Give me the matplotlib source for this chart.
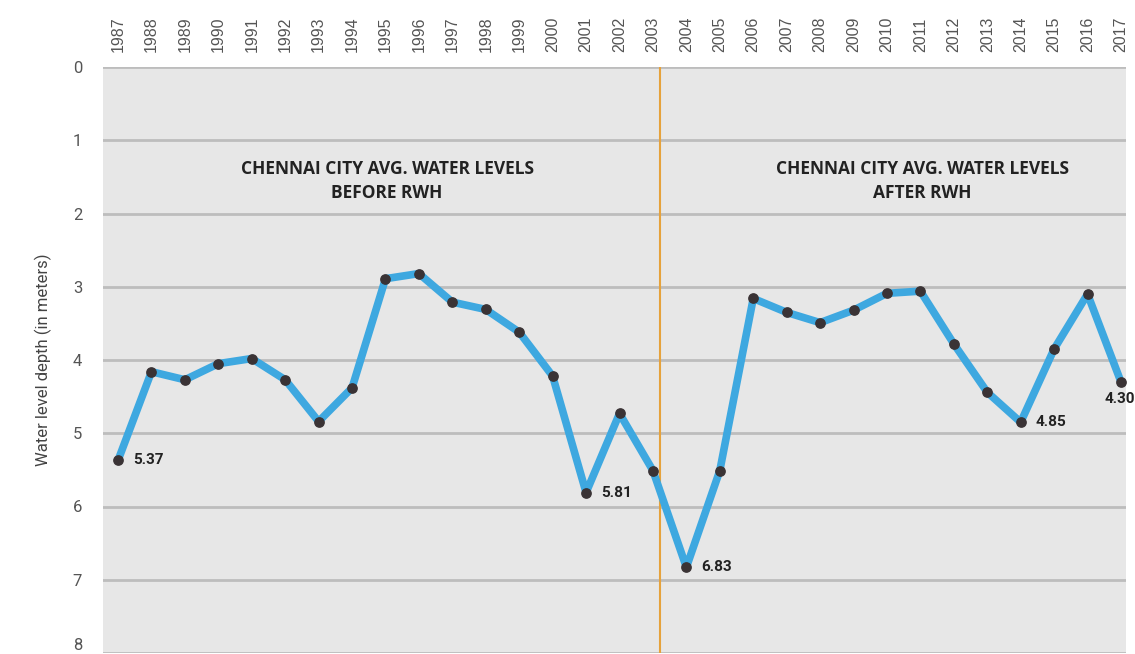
import matplotlib
matplotlib.use("Agg")
import matplotlib.pyplot as plt
import numpy as np

# Chennai city average water level depth (m), 1987-2017
years = list(range(1987, 2018))
depth = [5.37, 4.16, 4.27, 4.05, 3.98, 4.27, 4.84, 4.38, 2.89, 2.82,
         3.21, 3.31, 3.62, 4.22, 5.81, 4.73, 5.51, 6.83, 5.51, 3.16,
         3.35, 3.49, 3.32, 3.09, 3.06, 3.78, 4.44, 4.85, 3.85, 3.10,
         4.30]
yticks = list(range(0, 9))
rwh_year = 2003.2

labelled = {1987: "5.37", 2001: "5.81", 2004: "6.83", 2014: "4.85", 2017: "4.30"}

bg_color = '#e7e7e7'
grid_color = '#bdbdbd'
line_color = '#3ea8e0'
marker_color = '#3a3335'
divider_color = '#e6a23c'
tick_color = '#555555'

fig = plt.figure(figsize=(11.35, 6.54), dpi=100)
ax = fig.add_axes([103 / 1135, 1 / 654, (1126 - 103) / 1135, (653 - 67) / 654])
ax.set_facecolor(bg_color)

ax.plot(years, depth, color=line_color, linewidth=5.5, solid_joinstyle='round',
        solid_capstyle='round', zorder=3, clip_on=False)
ax.scatter(years, depth, s=45, color=marker_color, zorder=4, clip_on=False)

ax.axvline(rwh_year, color=divider_color, linewidth=1.5, zorder=2)

ax.set_xlim(1986.55, 2017.15)
ax.set_ylim(8, 0)
ax.set_yticks(yticks)
ax.set_yticklabels([str(t) for t in yticks])
ax.set_xticks(years)
ax.set_xticklabels([str(y) for y in years], rotation=90, fontsize=11.5,
                   family='Liberation Sans', color=tick_color)
ax.xaxis.tick_top()
ax.tick_params(axis='x', length=0, pad=11)
ax.tick_params(axis='y', length=0, pad=15, labelsize=12, labelcolor=tick_color)
for lbl in ax.get_yticklabels():
    lbl.set_family('Roboto')
# bottom label sits just above the edge, as in the original
ax.get_yticklabels()[-1].set_verticalalignment('bottom')

ax.grid(axis='y', color=grid_color, linewidth=2, zorder=1)
ax.set_axisbelow(True)
for s in ax.spines.values():
    s.set_visible(False)

ax.set_ylabel('Water level depth (in meters)', fontsize=12, family='Roboto',
              color='#444444', labelpad=15)

# Section titles
title_font = dict(fontsize=12.5, fontweight='bold', color='#222222',
                  family=['Liberation Sans Narrow', 'Open Sans'], ha='center', va='center',
                  linespacing=1.4)
ax.text(1995.05, 1.56, 'CHENNAI CITY AVG. WATER LEVELS\nBEFORE RWH', **title_font)
ax.text(2011.05, 1.56, 'CHENNAI CITY AVG. WATER LEVELS\nAFTER RWH', **title_font)

# Value annotations
for yr, txt in labelled.items():
    v = depth[years.index(yr)]
    if yr == 2017:
        ax.annotate(txt, (yr, v), xytext=(-12, -12), textcoords='offset points',
                    ha='left', va='center', fontsize=11, fontweight='bold',
                    family='Roboto', color='#222222', annotation_clip=False)
    else:
        ax.annotate(txt, (yr, v), xytext=(11, 0), textcoords='offset points',
                    ha='left', va='center', fontsize=11, fontweight='bold',
                    family='Roboto', color='#222222', annotation_clip=False)

fig.savefig('out.png', dpi=100)
